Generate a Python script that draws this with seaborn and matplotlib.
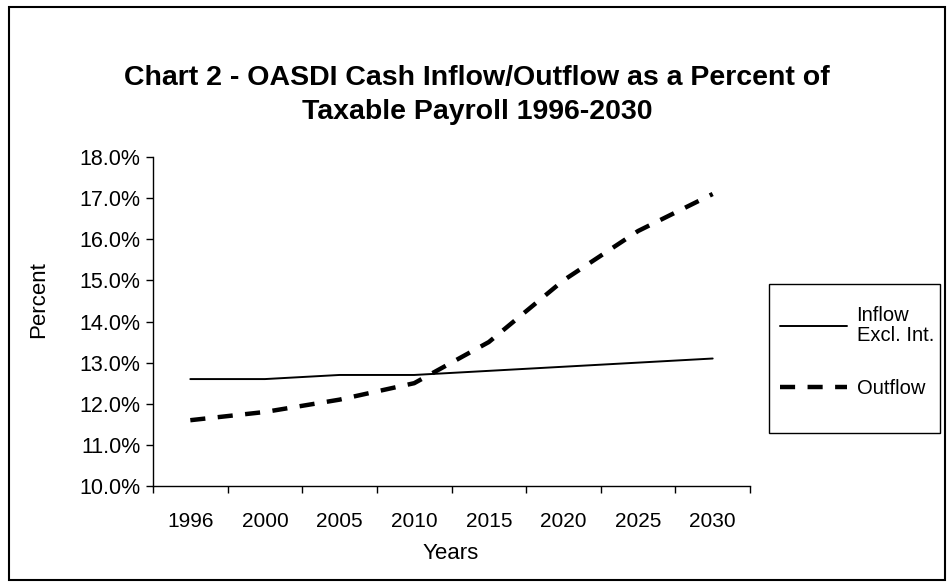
import matplotlib
matplotlib.use("Agg")
import matplotlib.pyplot as plt
from matplotlib.patches import Rectangle
from matplotlib.ticker import FuncFormatter, FixedLocator
import seaborn as sns
import pandas as pd

years = ["1996", "2000", "2005", "2010", "2015", "2020", "2025", "2030"]
inflow = [12.6, 12.6, 12.7, 12.7, 12.8, 12.9, 13.0, 13.1]
outflow = [11.6, 11.8, 12.1, 12.5, 13.5, 15.0, 16.2, 17.1]
series_names = ["Inflow\nExcl. Int.", "Outflow"]
title = "Chart 2 - OASDI Cash Inflow/Outflow as a Percent of\nTaxable Payroll 1996-2030"

sns.set_theme(style="white")
plt.rcParams["font.family"] = ["Liberation Sans", "DejaVu Sans"]

df = pd.DataFrame({
    "Years": years * 2,
    "Percent": inflow + outflow,
    "Series": [series_names[0]] * len(years) + [series_names[1]] * len(years),
})

fig = plt.figure(figsize=(9.51, 5.86), dpi=100)
ax = fig.add_axes([153 / 951, 1 - 486 / 586, (750 - 153) / 951, (486 - 157) / 586])

sns.lineplot(data=df[df.Series == series_names[0]], x="Years", y="Percent",
             color="black", linewidth=1.4, ax=ax, label=series_names[0], sort=False)
sns.lineplot(data=df[df.Series == series_names[1]], x="Years", y="Percent",
             color="black", linewidth=3.2, ax=ax, label=series_names[1], sort=False)
ax.lines[1].set_dashes([3.4, 2.8])

ax.set_xlim(-0.5, len(years) - 0.5)
ax.set_ylim(10, 18)
ax.set_yticks([10, 11, 12, 13, 14, 15, 16, 17, 18])
ax.yaxis.set_major_formatter(FuncFormatter(lambda v, p: f"{v:.1f}%"))
ax.set_xticks(range(len(years)))
ax.set_xticklabels(years)
ax.xaxis.set_minor_locator(FixedLocator([i - 0.5 for i in range(len(years) + 1)]))
ax.tick_params(axis="x", which="major", length=0, pad=19, labelsize=15, colors="black")
ax.tick_params(axis="x", which="minor", length=5, width=1, color="black", bottom=True)
ax.tick_params(axis="y", which="major", length=5, width=1, color="black", left=True,
               labelsize=15.5, pad=4, colors="black")

for s in ["top", "right"]:
    ax.spines[s].set_visible(False)
for s in ["left", "bottom"]:
    ax.spines[s].set_color("black")
    ax.spines[s].set_linewidth(1.0)

ax.set_xlabel("Years", fontsize=16, color="black")
ax.xaxis.set_label_coords((451 - 153) / (750 - 153), (486 - 543) / (486 - 157))
ax.set_ylabel("Percent", fontsize=16, color="black")
ax.yaxis.set_label_coords((49 - 153) / (750 - 153), (486 - 300) / (486 - 157))

fig.text(477 / 951, 1 - 95 / 586, title, ha="center", va="center", fontsize=20.5,
         fontweight="bold", linespacing=1.4, color="black")

# legend box
fig.patches.append(Rectangle((769 / 951, 1 - 433 / 586), (940 - 769) / 951, (433 - 284) / 586,
                             transform=fig.transFigure, fill=False, edgecolor="black", linewidth=1.0))
leg = ax.legend(loc="upper left", bbox_to_anchor=(772 / 951, 1 - 298 / 586),
                bbox_transform=fig.transFigure, frameon=False, fontsize=14.5,
                handlelength=3.3, handletextpad=0.5, labelspacing=1.7, borderaxespad=0)
for t in leg.get_texts():
    t.set_color("black")
    t.set_linespacing(1.05)

# outer border
fig.patches.append(Rectangle((9 / 951, 6 / 586), (945 - 9) / 951, (580 - 7) / 586,
                             transform=fig.transFigure, fill=False, edgecolor="black", linewidth=1.5))

fig.savefig("out.png", dpi=100)
